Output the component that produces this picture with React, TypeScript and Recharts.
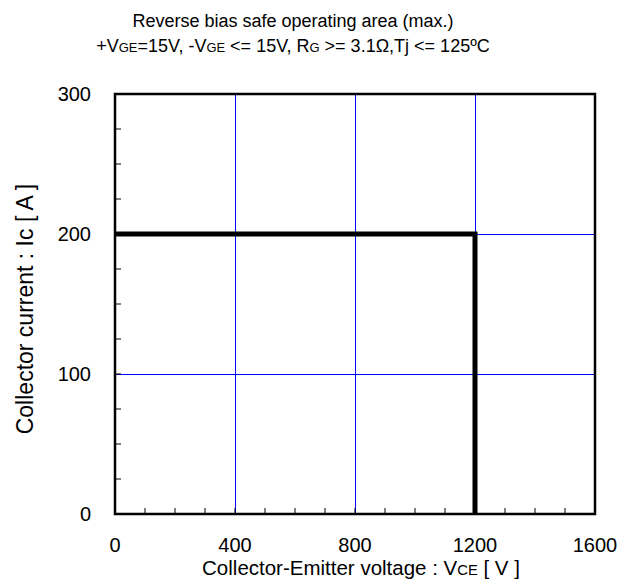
import { LineChart, Line, XAxis, YAxis, CartesianGrid, ReferenceArea } from 'recharts'

// RBSOA boundary (max.)
const voltage = [0, 1200, 1200]
const current = [200, 200, 0]

const xTicks = [0, 100, 200, 300, 400, 500, 600, 700, 800, 900, 1000, 1100, 1200, 1300, 1400, 1500, 1600]
const yTicks = [0, 25, 50, 75, 100, 125, 150, 175, 200, 225, 250, 275, 300]
const xGrid = [0, 400, 800, 1200, 1600]
const yGrid = [0, 100, 200, 300]

const data = voltage.map((v, i) => ({ vce: v, ic: current[i] }))

const FONT = '"Liberation Sans", Arial, sans-serif'
const small = { fontSize: '0.72em' }

export default function App() {
  return (
    <div style={{ position: 'absolute', left: 0, top: 0, width: 633, height: 580, background: '#fff', fontFamily: FONT }}>
      <div style={{ position: 'absolute', left: 0, top: 9, width: 586, textAlign: 'center', fontSize: 18, lineHeight: '25px', color: '#000' }}>
        <div>Reverse bias safe operating area (max.)</div>
        <div>
          +V<span style={small}>GE</span>=15V, -V<span style={small}>GE</span> &lt;= 15V, R<span style={small}>G</span> &gt;= 3.1Ω,Tj &lt;= 125ºC
        </div>
      </div>

      <LineChart width={633} height={580} data={data} margin={{ top: 94, right: 38, bottom: 36, left: 75 }}>
        <CartesianGrid
          stroke="#0000ff"
          strokeWidth={1}
          shapeRendering="crispEdges"
          horizontalValues={yGrid}
          verticalValues={xGrid}
        />
        <XAxis
          dataKey="vce"
          type="number"
          domain={[0, 1600]}
          ticks={xTicks}
          interval={0}
          height={30}
          axisLine={false}
          tickSize={-6}
          tickMargin={30}
          tickLine={{ stroke: '#000', strokeWidth: 1 }}
          tick={{ fontSize: 20, fill: '#000', fontFamily: FONT }}
          tickFormatter={(v: number) => (v % 400 === 0 ? String(v) : '')}
        />
        <YAxis
          type="number"
          domain={[0, 300]}
          ticks={yTicks}
          interval={0}
          width={40}
          axisLine={false}
          tickSize={-6}
          tickMargin={30}
          tickLine={{ stroke: '#000', strokeWidth: 1 }}
          tick={{ fontSize: 20, fill: '#000', fontFamily: FONT }}
          tickFormatter={(v: number) => (v % 100 === 0 ? String(v) : '')}
        />
        <Line
          type="linear"
          dataKey="ic"
          stroke="#000"
          strokeWidth={5}
          dot={false}
          activeDot={false}
          isAnimationActive={false}
        />
        <ReferenceArea x1={0} x2={1600} y1={0} y2={300} fill="none" stroke="#000" strokeWidth={2.5} />
      </LineChart>

      <div style={{ position: 'absolute', left: 161, top: 556, width: 400, textAlign: 'center', fontSize: 20.5, lineHeight: '24px', color: '#000' }}>
        Collector-Emitter voltage : V<span style={small}>CE</span> [ V ]
      </div>
      <div
        style={{
          position: 'absolute', left: 25, top: 309, width: 400, textAlign: 'center', fontSize: 23, lineHeight: '26px', color: '#000',
          transform: 'translate(-50%, -50%) rotate(-90deg)',
        }}
      >
        Collector current : Ic [ A ]
      </div>
    </div>
  )
}
